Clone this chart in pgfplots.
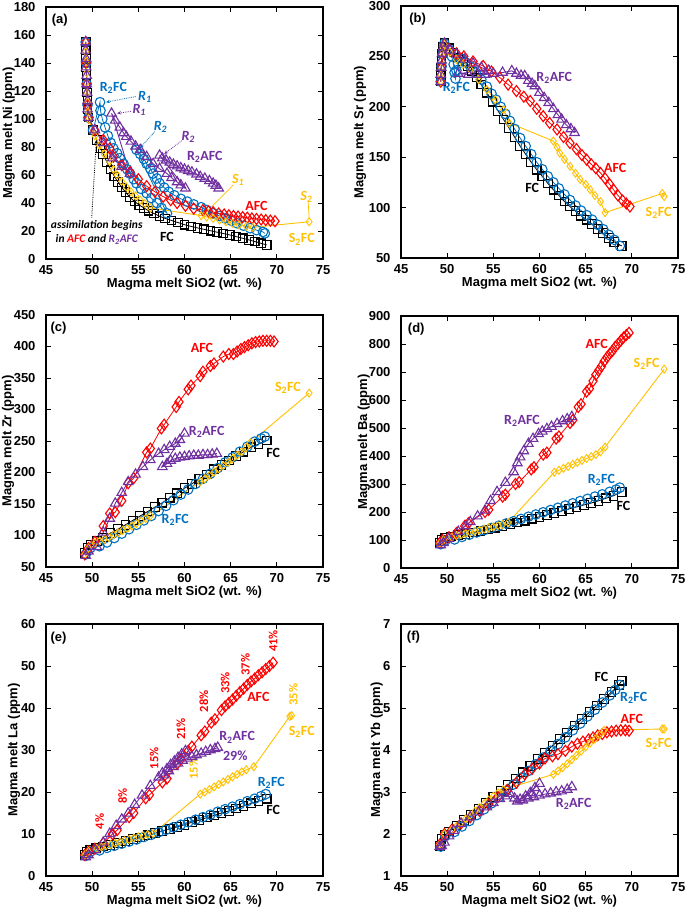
\documentclass[border=0pt]{standalone}
\usepackage{pgfplots}
\pgfplotsset{compat=1.18}
\usetikzlibrary{arrows.meta}
\usepackage{fontspec}
\setmainfont{Liberation Sans}
\newfontfamily\calfont{Carlito}

\definecolor{blueC}{HTML}{0070C0}
\definecolor{redC}{HTML}{FF0000}
\definecolor{purpC}{HTML}{7030A0}
\definecolor{goldC}{HTML}{FFC000}

\pgfplotsset{
  panel/.style={
    scale only axis, width=277pt, height=252pt, anchor=south west,
    xmin=45, xmax=75, xtick={45,50,...,75},
    axis line style={line width=1.5pt},
    tick style={black, line width=0.9pt},
    tick align=inside, major tick length=5pt,
    ticklabel style={font=\fontsize{13}{13}\selectfont\bfseries},
    /pgf/number format/assume math mode=true,
    xticklabel style={yshift=-3pt},
    yticklabel style={xshift=-7pt},
    label style={font=\fontsize{13}{13}\selectfont\bfseries},
    xlabel={Magma melt SiO2 (wt. \%)},
    xlabel style={at={(axis description cs:0.5,-0.1)}, anchor=center},
  },
  fc/.style={black, line width=0.8pt, mark=square, mark size=4.3pt, mark options={solid, line width=1.1pt}},
  r2fc/.style={blueC, line width=0.8pt, mark=o, mark size=4.8pt, mark options={solid, line width=1.1pt}},
  afc/.style={redC, line width=0.8pt, mark=diamond, mark size=5.5pt, mark options={solid, line width=1.1pt}},
  s2fc/.style={goldC, line width=0.9pt, mark=diamond, mark size=4pt, mark options={solid, line width=0.9pt}},
  r2afc/.style={purpC, line width=0.9pt, mark=triangle, mark size=5.5pt, mark options={solid, line width=1.1pt}},
}
\tikzset{
  lab/.style={font=\calfont\bfseries\fontsize{14}{14}\selectfont, inner sep=0pt},
  ilab/.style={font=\calfont\bfseries\itshape\fontsize{14}{14}\selectfont, inner sep=0pt},
  plab/.style={font=\fontsize{13}{13}\selectfont\bfseries, inner sep=0pt},
  pct/.style={font=\calfont\bfseries\fontsize{12.5}{12.5}\selectfont, inner sep=0pt, rotate=90},
  arr/.style={densely dotted, line width=0.8pt, -{Stealth[length=4pt,width=3.5pt]}},
}

\begin{document}
\begin{tikzpicture}
\useasboundingbox (0,0) rectangle (685pt,917pt);

% ---------------- (a) Ni
\begin{axis}[panel, at={(46pt,658pt)},
  ymin=0, ymax=180, ytick={0,20,...,180},
  ylabel={Magma melt Ni (ppm)},
  ylabel style={at={(axis description cs:-0.134,0.5)}, anchor=center}]
\addplot[fc] coordinates {(49.3,155)(49.3,149)(49.35,143)(49.35,137)(49.4,131)(49.4,125)(49.45,119)(49.5,113)(49.5,107)(49.6,101)
 (50.1,92)(50.5,85)(50.9,79)(51.2,75)(51.6,69)(52,64)(52.4,59)(52.8,55)(53.2,51)(53.6,48)(54.1,44)(54.6,41)(55.1,38.5)(55.6,36.5)
 (56.1,34.5)(56.7,32.5)(57.3,30.5)(57.9,29)(58.6,27.5)(59.3,26)(60,24.5)(60.7,23.3)(61.4,22.2)(62.1,21.2)(62.8,20.2)(63.5,19.2)
 (64.2,18.2)(64.9,17.2)(65.6,16)(66.3,14.8)(67,13.6)(67.6,12.5)(68.3,11.2)(68.9,10)};
\addplot[r2fc] coordinates {(49.3,155)(49.35,140)(49.4,125)(49.5,110)(49.6,101)(50.1,92)
 (50.85,112)(50.9,106)(51.1,100)(51.4,94)(51.7,88)(52,83)(52.3,79)(52.7,75.5)(53,72)(53.4,68)(53.8,64)(54.1,61)(54.5,57)(54.8,54)
 (55.3,50)(55.9,47)(56.4,43.5)(57,40)(57.5,36.5)(58.1,32.6)
 (54.8,78)(55.2,75)(55.6,71.5)(55.9,68)(56.3,64.5)(56.6,61)(57,57.5)(57.3,54)(57.8,51)(58.3,48)(58.9,45.5)(59.6,43)(60.3,41)
 (61,39)(61.8,37)(62.4,35)(63.1,32.6)(63.8,30.7)(64.4,29)(65.1,27.2)(65.7,25.5)(66.4,23.8)(67.1,22)(67.8,20.6)(68.5,19.3)(68.7,18.3)};
\addplot[afc] coordinates {(49.3,155)(49.35,140)(49.4,125)(49.5,110)(49.6,101)
 (50.3,92)(51.2,85)(51.9,79)(52.3,73)(53.2,67)(54.1,62)(55,57)(55.9,52)(56.8,48)(57.7,44.5)(58.5,42)(59.2,40)(60.1,38)(61,36)
 (62,35)(62.6,34)(63.1,33.5)(63.7,32.5)(64.3,31.8)(64.8,31.2)(65.3,30.7)(65.8,30.3)(66.3,29.9)(66.8,29.5)(67.3,29)(67.8,28.6)
 (68.3,28.2)(68.8,27.8)(69.3,27.4)(69.8,27)};
\addplot[s2fc] coordinates {(49.3,155)(49.3,148)(49.35,141)(49.4,133)(49.4,126)(49.45,119)(49.5,112)(49.55,105)(49.6,100)
 (50.3,88)(50.8,81)(51.3,75)(51.9,69.5)(52.3,64)(52.7,60)(53.2,55.5)(53.7,51.5)(54.2,48)(54.7,45)(55.2,42)(55.7,39.5)(56.3,36.5)
 (61.8,31)(62.4,30)(63.1,29)(63.8,27.8)(64.5,26.6)(65.2,25.5)(65.9,24.4)(66.7,23.4)(67.4,22.6)(73.5,26.6)};
\addplot[r2afc] coordinates {(49.3,155)(49.3,149)(49.35,143)(49.35,137)(49.4,131)(49.4,125)(49.45,119)(49.5,113)(49.5,107)(49.6,101)
 (50.3,92)(51.2,83)(52.2,72)(53.2,66)(54.1,61)
 (52.1,104)(52.5,99)(53,94)(53.4,90)(53.7,87.4)(54.2,84)(54.7,80.5)(55.2,78)(55.9,73)(56.6,68)(57.3,64.5)(58.1,61)(58.6,58)
 (59.2,55)(59.6,52.8)(60.1,50.5)
 (57.3,74)(57.6,72)(58,70.5)(58.4,69)(58.8,67.5)(59.2,66.3)(59.6,65)(60,64)(60.4,63)(60.8,62)(61.3,60.5)(61.7,58.8)(62.2,57.5)
 (62.7,55.8)(63.1,54)(63.4,52.5)(63.7,50.5)};
\node[plab] at (rel axis cs:0.05,0.948) {(a)};
\node[lab, blueC] at (axis cs:52.3,122) {R\textsubscript{2}FC};
\node[ilab, blueC] at (axis cs:55.7,116) {R\textsubscript{1}};
\draw[arr, blueC] (axis cs:54.7,116) -- (axis cs:51.5,112);
\node[ilab, purpC] at (axis cs:55.1,106.4) {R\textsubscript{1}};
\draw[arr, purpC] (axis cs:54.2,105.5) -- (axis cs:52.7,104);
\node[ilab, blueC] at (axis cs:57.4,94.5) {R\textsubscript{2}};
\draw[arr, blueC] (axis cs:56.8,91) -- (axis cs:55.2,79.5);
\node[ilab, purpC] at (axis cs:60.4,87.4) {R\textsubscript{2}};
\draw[arr, purpC] (axis cs:59.7,84.5) -- (axis cs:57.8,75);
\node[lab, purpC] at (axis cs:62.2,73) {R\textsubscript{2}AFC};
\node[ilab, goldC] at (axis cs:65.8,56.5) {S\textsubscript{1}};
\draw[goldC, line width=0.7pt] (axis cs:65.3,53) -- (axis cs:62,31);
\node[lab, redC] at (axis cs:67.8,38) {AFC};
\node[ilab, goldC] at (axis cs:73.2,44.5) {S\textsubscript{2}};
\draw[goldC, line width=0.7pt] (axis cs:73.4,40.5) -- (axis cs:73.5,28.5);
\node[lab, goldC] at (axis cs:72.7,14) {S\textsubscript{2}FC};
\node[lab, black] at (axis cs:58.1,16) {FC};
\node[lab, black, font=\calfont\bfseries\itshape\fontsize{11.5}{11.5}\selectfont] at (axis cs:50.5,24.3) {assimilation begins};
\node[lab, black, font=\calfont\bfseries\itshape\fontsize{11.5}{11.5}\selectfont] at (axis cs:50.5,14) {in \textcolor{redC}{AFC} and \textcolor{purpC}{R\textsubscript{2}AFC}};
\draw[arr, black] (axis cs:49.95,29.5) -- (axis cs:50.45,85);
\end{axis}

% ---------------- (b) Sr
\begin{axis}[panel, at={(401pt,659pt)},
  ymin=50, ymax=300, ytick={50,100,...,300},
  ylabel={Magma melt Sr (ppm)},
  ylabel style={at={(axis description cs:-0.148,0.5)}, anchor=center}]
\addplot[fc] coordinates {(49.3,225)(49.3,232)(49.35,239)(49.4,246)(49.45,253)(49.55,259)(49.7,263)
 (50.2,258)(50.7,254)(51.2,249)(51.7,245)(52.2,240)(52.7,235)(53.2,229)(53.7,222)(54.3,214)(54.9,205)(55.5,196)(56.1,187.5)
 (56.7,179)(57.3,170)(57.9,161)(58.5,153)(59.1,145)(59.7,137.6)(60.3,131)(60.9,124)(61.5,117.7)(62.1,112)(62.7,106)(63.3,101)
 (63.9,96.5)(64.5,92)(65.1,88)(65.7,83.5)(66.3,79)(66.9,74.6)(67.5,70)(68.1,66)(68.9,62)};
\addplot[r2fc] coordinates {(49.3,225)(49.4,240)(49.5,252)(49.7,263)(50.2,257)(50.5,250)(50.7,242)(50.8,234)(50.9,228)
 (51,236)(51.2,243)(51.5,248)(52,244)(52.5,240)(53.1,234)(53.7,227)(54.3,220)(54.8,213)(55.3,207)(55.8,200)(56.3,193)
 (56.8,186)(57.3,178)(57.9,169)(58.5,161)(59.1,153)(59.7,145)(60.3,138)(60.9,131)(61.5,125)(62.1,119)(62.7,113)(63.3,107.5)
 (63.9,102)(64.5,97)(65.1,92.5)(65.7,88)(66.3,83)(66.9,78.5)(67.5,73)(68.1,68)(68.7,62)};
\addplot[afc] coordinates {(49.3,225)(49.4,240)(49.5,252)(49.7,262)(50.3,256)(51,253)(51.8,250)(52.8,245)(53.9,240.5)
 (54.8,235)(55.7,229)(56.6,222)(57.5,215.6)(58.3,210)(59,205.7)(59.7,198)(60.4,190.7)(61.1,184)(61.9,177.5)(62.6,170)(63.3,164)
 (64,158)(64.6,152)(65.1,147.6)(65.6,143)(66.1,139)(66.6,134.4)(67.1,129)(67.6,123)(68,118)(68.5,112)(69,107)(69.4,104)(69.8,101)};
\addplot[s2fc] coordinates {(49.3,225)(49.3,232)(49.35,239)(49.4,246)(49.45,253)(49.55,259)(49.7,262)
 (50.3,254)(51,247)(51.7,242)(52.5,237)(53.4,227)(54.3,217)(55.2,207)(56.1,197)(56.7,184)
 (61.5,166)(61.9,160)(62.2,154)(62.7,148)(63.3,141)(63.9,134)(64.4,128)(65,123)(65.5,117.7)(66,112)(66.6,106)(67.1,95)
 (73.3,114)(73.5,111)};
\addplot[r2afc] coordinates {(49.3,225)(49.3,232)(49.35,239)(49.4,246)(49.45,253)(49.55,259)(49.7,263)
 (50.3,256)(51,252)(51.9,247)(52.8,243)(53.7,239)(54.5,236)
 (51.2,233)(52.3,232)(53.2,232)(54.1,232)(55,233)(56,234)(57,235.6)(57.5,233)(58,231)(58.4,230.6)(58.8,226)(59.2,223)
 (59.5,220.6)(60,214)(60.5,209)(61,204)(61.5,198)(62,192)(62.4,187.5)(62.9,182)(63.4,178)(63.8,174.2)};
\node[plab] at (rel axis cs:0.06,0.948) {(b)};
\node[lab, blueC] at (axis cs:51,219) {R\textsubscript{2}FC};
\node[lab, purpC] at (axis cs:61.6,229) {R\textsubscript{2}AFC};
\node[lab, redC] at (axis cs:68.2,139.3) {AFC};
\node[lab, black] at (axis cs:59.2,119.4) {FC};
\node[lab, goldC] at (axis cs:72.9,95) {S\textsubscript{2}FC};
\end{axis}

% ---------------- (c) Zr
\begin{axis}[panel, at={(46pt,350pt)},
  ymin=50, ymax=450, ytick={50,100,...,450},
  ylabel={Magma melt Zr (ppm)},
  ylabel style={at={(axis description cs:-0.137,0.5)}, anchor=center}]
\addplot[fc] coordinates {(49.2,72)(49.5,80)(49.9,85)(50.5,91)(51.2,97)(52,104)(52.8,110)(53.6,117)(54.4,124)(55.2,131)(56,138)
 (56.8,145)(57.6,152)(58.4,160)(59.2,167)(60,175)(60.8,182)(61.6,190)(62.4,197)(63.2,205)(64,212)(64.8,219)(65.6,226)(66.4,233)
 (67.2,240)(68,245)(68.9,251)};
\addplot[r2fc] coordinates {(49.3,70)(49.8,80)(50.8,83)(51.6,89)(52.4,96)(53.2,103)(54,110)(54.8,117)(55.6,124)(56.4,131)
 (57.2,139)(58,147)(58.8,156)(59.6,165)(60.4,173)(61.2,182)(62,190)(62.8,198)(63.6,207)(64.4,216)(65.2,224)(66,233)(66.8,241)
 (67.6,249)(68.3,254)(68.7,257)};
\addplot[afc] coordinates {(49.2,70)(49.6,80)(50.3,90)(51.2,115)(51.9,135)(52.5,137)(53.2,155)(53.9,183)(54.5,191)(55.9,232)
 (56.3,238)(57.5,270)(57.8,276)(59.1,304)(59.4,312)(60.4,332)(60.7,338)(61.7,353)(62,360)(62.8,369)(63.2,373)(64.2,384)
 (64.8,388)(65.3,388)(65.7,392)(66.1,396)(66.5,399)(66.9,402)(67.3,405)(67.7,407)(68.1,408)(68.5,409)(68.9,409)(69.3,409)(69.7,408)};
\addplot[s2fc] coordinates {(49.2,70)(49.6,80)(50.3,88)(50.8,91)(51.3,94)(51.8,97)(52.3,101)(52.8,104)(53.3,108)(53.8,111)
 (54.3,115)(54.8,119)(55.3,123)(55.8,127)(56.3,131)(61.7,185)(62.2,190)(62.7,195)(63.2,201)(63.7,206)(64.2,211)(64.7,216)
 (65.2,222)(65.7,227)(66.2,233)(66.7,240)(67.1,247)(73.5,326)};
\addplot[r2afc] coordinates {(49.3,68)(49.6,75)(50.5,82)(51.2,105)(51.9,127)(52.5,151)(53.2,168)(53.9,185)(54.7,197)(55.5,209)
 (56.3,220)(57.2,230)(57.8,236)(58.4,241)(59,246)(59.5,252)(60,262)
 (57.6,209)(58.1,214)(58.5,219)(59,222)(59.5,224)(60,225)(60.5,226)(61,227)(61.5,227)(62,228)(62.5,228)(63,229)(63.5,230)};
\node[plab] at (rel axis cs:0.045,0.948) {(c)};
\node[lab, redC] at (axis cs:61.9,397) {AFC};
\node[lab, goldC] at (axis cs:71.2,333.6) {S\textsubscript{2}FC};
\node[lab, purpC] at (axis cs:62.4,264.8) {R\textsubscript{2}AFC};
\node[lab, black] at (axis cs:69.6,231.4) {FC};
\node[lab, blueC] at (axis cs:59,124.6) {R\textsubscript{2}FC};
\end{axis}

% ---------------- (d) Ba
\begin{axis}[panel, at={(401pt,349pt)},
  ymin=0, ymax=900, ytick={0,100,...,900},
  ylabel={Magma melt Ba (ppm)},
  ylabel style={at={(axis description cs:-0.134,0.5)}, anchor=center}]
\addplot[fc] coordinates {(49.2,90)(49.4,100)(49.8,108)(50.4,112)(51.2,117)(52,122)(52.8,127)(53.6,132)(54.4,138)(55.2,144)
 (56,150)(56.8,156)(57.6,162)(58.4,169)(59.2,176)(60,183)(60.8,190)(61.6,197)(62.4,204)(63.2,211)(64,218)(64.8,225)(65.6,232)
 (66.4,240)(67.2,249)(68,258)(68.9,272)};
\addplot[r2fc] coordinates {(49.3,85)(49.8,98)(50.8,102)(51.6,111)(52.4,119)(53.2,127)(54,135)(54.8,143)(55.6,151)(56.4,159)
 (57.2,167)(58,175)(58.8,183)(59.6,191)(60.4,199)(61.2,207)(62,215)(62.8,223)(63.6,231)(64.4,239)(65.2,247)(66,255)(66.8,263)
 (67.6,272)(68.3,280)(68.7,287)};
\addplot[afc] coordinates {(49.2,90)(49.5,100)(50.2,110)(51,125)(51.9,150)(52.3,160)(54.1,200)(54.5,208)(56,255)(56.3,262)
 (57.4,300)(57.8,307)(59.1,352)(59.4,360)(60.4,405)(60.8,412)(61.8,462)(62.1,470)(63.3,518)(63.6,528)(64.2,575)(64.5,585)
 (65.1,630)(65.4,640)(65.8,668)(66.1,690)(66.4,705)(66.7,720)(67,738)(67.3,752)(67.6,765)(67.9,775)(68.2,790)(68.5,800)
 (68.8,812)(69.1,823)(69.4,832)(69.7,840)};
\addplot[s2fc] coordinates {(49.2,88)(49.6,100)(50.5,110)(51,115)(51.5,119)(52,123)(52.5,127)(53,131)(53.5,135)(54,139)(54.5,143)
 (55,147)(55.5,151)(56,155)(56.6,162)(61.6,342)(62.1,349)(62.6,356)(63.1,363)(63.6,370)(64.1,377)(64.6,384)(65.1,391)(65.6,398)
 (66.1,405)(66.6,415)(67.1,432)(73.5,710)};
\addplot[r2afc] coordinates {(49.3,82)(49.6,90)(50.2,105)(51.2,130)(52,150)(52.5,165)(53.3,185)(54.1,206)(54.7,240)(55.4,272)
 (56.3,305)(57.2,343)(57.6,375)(57.9,396)(58.3,418)(58.8,444)(59.3,462)(59.9,479)(60.3,488)(60.8,497)(61.3,505)(61.9,515)
 (62.5,525)(63,532)(63.5,540)};
\node[plab] at (rel axis cs:0.055,0.948) {(d)};
\node[lab, redC] at (axis cs:66.2,801) {AFC};
\node[lab, goldC] at (axis cs:71.6,730) {S\textsubscript{2}FC};
\node[lab, purpC] at (axis cs:58.1,526) {R\textsubscript{2}AFC};
\node[lab, blueC] at (axis cs:66.7,315) {R\textsubscript{2}FC};
\node[lab, black] at (axis cs:69.1,220) {FC};
\end{axis}

% ---------------- (e) La
\begin{axis}[panel, at={(46pt,41pt)},
  ymin=0, ymax=60, ytick={0,10,...,60},
  ylabel={Magma melt La (ppm)},
  ylabel style={at={(axis description cs:-0.115,0.5)}, anchor=center}]
\addplot[fc] coordinates {(49.2,5)(49.4,5.8)(49.8,6.3)(50.4,6.6)(51.2,7)(52,7.4)(52.8,7.9)(53.6,8.3)(54.4,8.8)(55.2,9.2)(56,9.7)
 (56.8,10.2)(57.6,10.7)(58.4,11.2)(59.2,11.7)(60,12.2)(60.8,12.8)(61.6,13.3)(62.4,13.9)(63.2,14.4)(64,15)(64.8,15.5)(65.6,16.1)
 (66.4,16.7)(67.2,17.3)(68,17.8)(68.9,18.4)};
\addplot[r2fc] coordinates {(49.3,4.8)(49.8,5.8)(50.8,6.1)(51.6,6.7)(52.4,7.2)(53.2,7.7)(54,8.2)(54.8,8.7)(55.6,9.3)(56.4,9.8)
 (57.2,10.4)(58,11)(58.8,11.6)(59.6,12.2)(60.4,12.8)(61.2,13.4)(62,14)(62.8,14.6)(63.6,15.3)(64.4,15.9)(65.2,16.5)(66,17.1)
 (66.8,17.8)(67.6,18.4)(68.3,19)(68.8,19.5)};
\addplot[afc] coordinates {(49.2,5)(49.6,5.8)(50.3,6.5)(51.2,7.8)(52.2,10)(52.7,10.9)(54,14)(54.5,15)(55.8,18.5)(56.2,19.3)
 (57.6,22.3)(58.1,23.2)(59.2,26.7)(59.6,27.8)(60.4,29.8)(60.8,30.8)(61.8,33.5)(62.2,34.4)(62.9,36.5)(63.3,37.3)(64,39.5)
 (64.4,40.4)(64.8,41.2)(65.2,42)(65.6,42.9)(66,43.8)(66.4,44.6)(66.8,45.5)(67.2,46.3)(67.6,47)(68,47.8)(68.4,48.5)(68.8,49.3)
 (69.2,50)(69.6,50.8)};
\addplot[s2fc] coordinates {(49.2,5)(49.6,5.8)(50.5,6.6)(51,6.9)(51.5,7.2)(52,7.5)(52.5,7.8)(53,8.1)(53.5,8.4)(54,8.7)(54.5,9)
 (55,9.3)(55.5,9.6)(56,9.9)(56.6,10.1)(61.7,19.5)(62.2,20)(62.7,20.6)(63.2,21.2)(63.7,21.8)(64.2,22.4)(64.7,23)(65.2,23.6)
 (65.7,24.2)(66.2,24.8)(66.7,25.3)(67.5,26)(71.4,38)(71.6,38.2)};
\addplot[r2afc] coordinates {(49.3,4.5)(49.6,5)(50.3,6.2)(51.2,8)(51.9,10.1)(52.6,12)(53.2,13.5)(53.9,14.9)(54.6,17)(55.4,19.2)
 (56.3,21.5)(57.2,23.5)(57.6,24.5)(58.1,25.5)(58.5,26.5)(58.9,27.3)(59.3,28.2)(59.7,29)(60.1,29.8)
 (57.8,24)(58.3,25)(58.8,26)(59.3,26.8)(59.8,27.5)(60.3,28)(60.8,28.4)(61.3,28.8)(61.8,29.2)(62.3,29.6)(62.8,30)(63.3,30.3)(63.6,30.6)};
\node[plab] at (rel axis cs:0.045,0.945) {(e)};
\node[pct, redC] at (axis cs:50.8,13) {4\%};
\node[pct, redC] at (axis cs:53.3,19) {8\%};
\node[pct, redC] at (axis cs:56.7,28) {15\%};
\node[pct, redC] at (axis cs:59.6,35) {21\%};
\node[pct, redC] at (axis cs:62.1,41.6) {28\%};
\node[pct, redC] at (axis cs:64.4,46) {33\%};
\node[pct, redC] at (axis cs:66.6,50.3) {37\%};
\node[pct, redC] at (axis cs:69.6,56) {41\%};
\node[pct, goldC] at (axis cs:61,25.6) {15\%};
\node[pct, goldC] at (axis cs:71.8,43.2) {35\%};
\node[lab, purpC] at (axis cs:65.5,28.7) {29\%};
\node[lab, redC] at (axis cs:68,42.7) {AFC};
\node[lab, purpC] at (axis cs:65.7,33) {R\textsubscript{2}AFC};
\node[lab, goldC] at (axis cs:72.7,34.4) {S\textsubscript{2}FC};
\node[lab, blueC] at (axis cs:69.4,22.1) {R\textsubscript{2}FC};
\node[lab, black] at (axis cs:69.6,15.7) {FC};
\end{axis}

% ---------------- (f) Yb
\begin{axis}[panel, at={(401pt,41pt)},
  ymin=1, ymax=7, ytick={1,2,...,7},
  ylabel={Magma melt Yb (ppm)},
  ylabel style={at={(axis description cs:-0.087,0.5)}, anchor=center}]
\addplot[fc] coordinates {(49.2,1.72)(49.4,1.88)(49.7,1.98)(50.2,2.06)(51,2.2)(51.8,2.33)(52.6,2.46)(53.4,2.6)(54.2,2.74)(55,2.88)
 (55.8,3.02)(56.6,3.17)(57.4,3.32)(58.2,3.47)(59,3.62)(59.8,3.78)(60.6,3.94)(61.4,4.1)(62.2,4.26)(63,4.42)(63.8,4.58)(64.6,4.74)
 (65.4,4.9)(66.2,5.06)(67,5.22)(67.8,5.38)(68.6,5.55)(68.9,5.65)};
\addplot[r2fc] coordinates {(49.3,1.7)(49.8,1.95)(50.8,2.05)(51.6,2.18)(52.4,2.31)(53.2,2.45)(54,2.59)(54.8,2.73)(55.6,2.88)
 (56.4,3.03)(57.2,3.18)(58,3.34)(58.8,3.5)(59.6,3.66)(60.4,3.82)(61.2,3.98)(62,4.14)(62.8,4.3)(63.6,4.47)(64.4,4.63)(65.2,4.8)
 (66,4.96)(66.8,5.13)(67.6,5.3)(68.2,5.43)(68.7,5.55)};
\addplot[afc] coordinates {(49.2,1.75)(49.7,2)(50.5,2.1)(51.5,2.25)(52.5,2.4)(53.5,2.55)(54.5,2.7)(55.5,2.88)(56.5,3.05)(57.5,3.22)
 (58.4,3.42)(59.2,3.55)(60,3.68)(60.6,3.8)(61.4,3.85)(62,3.9)(62.8,3.98)(63.5,4.08)(64.1,4.15)(64.7,4.2)(65.3,4.25)(65.8,4.3)
 (66.3,4.35)(66.8,4.38)(67.3,4.42)(67.8,4.44)(68.3,4.46)(68.8,4.47)(69.3,4.47)(69.7,4.46)};
\addplot[s2fc] coordinates {(49.2,1.75)(49.7,2)(50.5,2.1)(51,2.18)(51.5,2.27)(52,2.36)(52.5,2.45)(53,2.54)(53.5,2.63)(54,2.72)
 (54.5,2.81)(55,2.9)(55.5,2.98)(56.1,3.06)(61.5,3.42)(62,3.5)(62.5,3.58)(63,3.67)(63.5,3.77)(64,3.87)(64.5,3.97)(65,4.07)
 (65.5,4.17)(66,4.26)(66.5,4.36)(67,4.47)(73.3,4.5)(73.5,4.5)};
\addplot[r2afc] coordinates {(49.2,1.7)(49.4,1.72)(49.7,1.8)(50.2,1.95)(50.7,2.08)(51.5,2.25)(52.5,2.4)(53.4,2.52)(54.3,2.64)
 (55,2.74)(55.7,2.84)(56.3,2.9)(56.8,2.96)(57.3,2.85)(57.9,2.82)(58.5,2.9)(59,2.98)(59.5,3.1)(60,3.2)
 (57.6,2.78)(58.2,2.8)(58.8,2.85)(59.4,2.88)(60,2.92)(60.6,2.95)(61.2,2.97)(61.8,3)(62.4,3.02)(63,3.06)(63.5,3.12)};
\node[plab] at (rel axis cs:0.045,0.948) {(f)};
\node[lab, black] at (axis cs:66.7,5.74) {FC};
\node[lab, blueC] at (axis cs:70.2,5.25) {R\textsubscript{2}FC};
\node[lab, redC] at (axis cs:70,4.74) {AFC};
\node[lab, goldC] at (axis cs:72.9,4.15) {S\textsubscript{2}FC};
\node[lab, purpC] at (axis cs:63.7,2.71) {R\textsubscript{2}AFC};
\end{axis}
\end{tikzpicture}
\end{document}
